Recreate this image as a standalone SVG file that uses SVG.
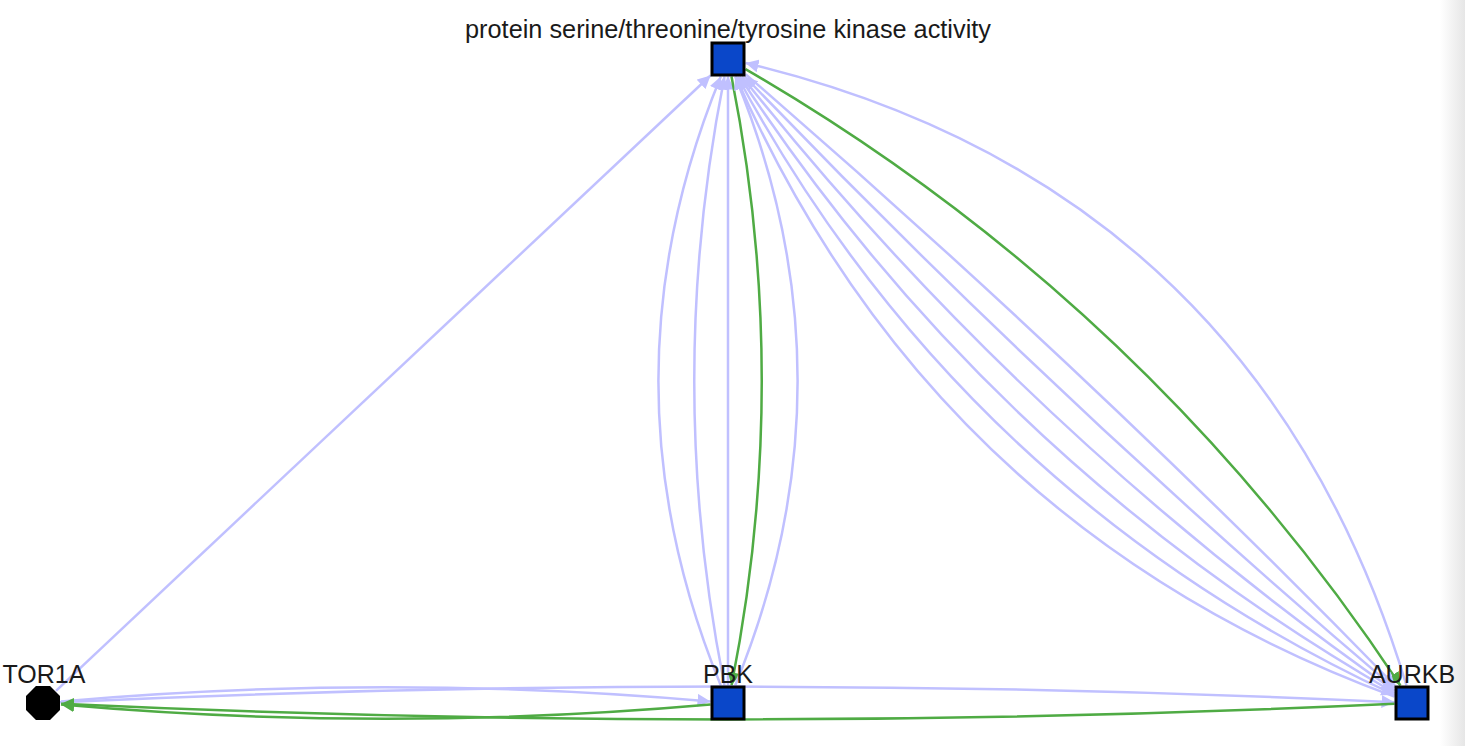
<svg xmlns="http://www.w3.org/2000/svg" width="1465" height="746" viewBox="0 0 1465 746">
<defs>
<linearGradient id="edge" x1="0" y1="0" x2="1" y2="0">
<stop offset="0" stop-color="#ffffff"/>
<stop offset="1" stop-color="#e6e6e6"/>
</linearGradient>
<marker id="al" markerWidth="14" markerHeight="13" refX="13" refY="6.5" orient="auto" markerUnits="userSpaceOnUse"><path d="M0,0 L13,6.5 L0,13 z" fill="#c0c0ff"/></marker>
<marker id="ag" markerWidth="14" markerHeight="13" refX="13" refY="6.5" orient="auto" markerUnits="userSpaceOnUse"><path d="M0,0 L13,6.5 L0,13 z" fill="#4fab44"/></marker>
<style>
.l{fill:none;stroke:#c0c0ff;stroke-width:2.5;marker-end:url(#al)}
.g{fill:none;stroke:#4fab44;stroke-width:2.5;marker-end:url(#ag)}
.sq{fill:#0a47c9;stroke:#000;stroke-width:3}
.t{font-family:"Liberation Sans",Arial,sans-serif;font-size:25px;fill:#1a1a1a;text-anchor:middle}
</style>
</defs>
<rect width="1465" height="746" fill="#fff"/>
<rect x="1440" y="0" width="25" height="746" fill="url(#edge)"/>
<g id="connectors">
<path class="l" d="M56,690.8 L710.5,75.5"/>
<path class="l" d="M720.8,685.5 Q596,381 720.8,76.5"/>
<path class="l" d="M724.5,685.5 Q664,381 724.5,76.5"/>
<path class="l" d="M728,685.5 L728,76.5"/>
<path class="g" d="M731.5,76.5 Q792,381 731.5,685.5"/>
<path class="l" d="M735.2,685.5 Q860,381 735.2,76.5"/>
<path class="l" d="M1406.5,685.5 Q1255,184.4 745.5,63"/>
<path class="g" d="M745.5,69.1 Q1145.4,300.9 1400.4,685.5"/>
<path class="l" d="M745.5,74.1 Q1083.7,366.4 1394.9,685.5"/>
<path class="l" d="M1394.5,688.1 Q1053.5,398.5 744.8,76.5"/>
<path class="l" d="M741.9,76.5 Q1023.4,430.5 1394.5,690.7"/>
<path class="l" d="M1394.5,693 Q993.2,462.5 739.5,76.5"/>
<path class="l" d="M737.4,76.5 Q963.1,494.6 1394.5,694.9"/>
<path class="l" d="M1394.5,696.6 Q932.9,526.6 735.7,76.5"/>
<path class="l" d="M61,701.4 Q385.5,673 710.5,701.5"/>
<path class="l" d="M60,702.2 Q727.5,671 1394.5,702.2"/>
<path class="g" d="M710.5,704.5 Q385.5,733 61,704.5"/>
<path class="g" d="M1394.5,703.8 Q727.5,735 61,703.8"/>
</g>
<g id="node-top">
<rect class="sq" x="712" y="43" width="32" height="32"/>
<text class="t" x="728" y="38" style="font-size:25.3px">protein serine/threonine/tyrosine kinase activity</text>
</g>
<g id="node-TOR1A">
<polygon points="35.96,686 50.04,686 60,695.96 60,710.04 50.04,720 35.96,720 26,710.04 26,695.96" fill="#000"/>
<text class="t" x="44" y="682.5">TOR1A</text>
</g>
<g id="node-PBK">
<rect class="sq" x="712" y="687" width="32" height="32"/>
<text class="t" x="728" y="682.5">PBK</text>
</g>
<g id="node-AURKB">
<rect class="sq" x="1396" y="687" width="32" height="32"/>
<text class="t" x="1412" y="682.5">AURKB</text>
</g>
</svg>
